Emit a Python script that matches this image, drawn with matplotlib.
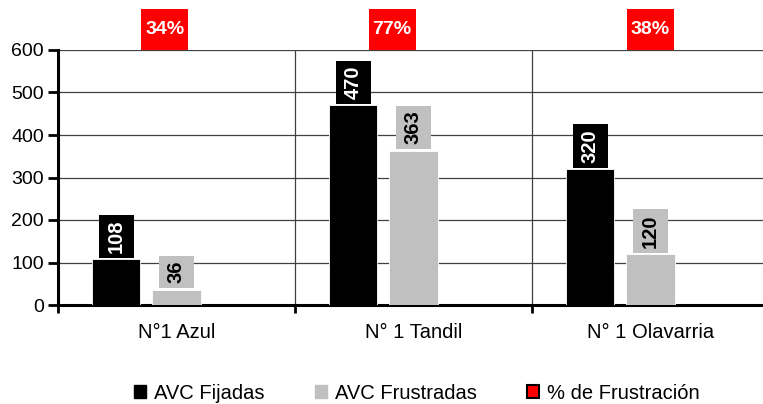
import numpy as np
import matplotlib
matplotlib.use("Agg")
import matplotlib.pyplot as plt
from matplotlib.patches import Patch, Rectangle
from matplotlib.path import Path
import matplotlib.transforms as mtransforms

plt.rcParams['font.family'] = ['Liberation Sans', 'DejaVu Sans']

# data
categories = ["N°1 Azul", "N° 1 Tandil", "N° 1 Olavarria"]
avc_fijadas = [108, 470, 320]
avc_frustradas = [36, 363, 120]
pct_frustracion = ["34%", "77%", "38%"]
series_names = ["AVC Fijadas", "AVC Frustradas", "% de Frustración"]

x = np.arange(len(categories))
w = 0.205
gray = "#c0c0c0"


def label_box(x0, y0, width, height, mutation_size):
    # box around rotated text: small pad along the text, wider across it
    pa = 0.24 * mutation_size
    pc = 0.40 * mutation_size
    x0, x1 = x0 - pa, x0 + width + pa
    y0, y1 = y0 - pc, y0 + height + pc
    return Path([(x0, y0), (x1, y0), (x1, y1), (x0, y1), (x0, y0)], closed=True)


fig = plt.figure(figsize=(7.63, 4.04), dpi=100)
ax = fig.add_axes([58 / 763, 1 - 305 / 404, 711 / 763, 255 / 404])

ax.bar(x - 0.255, avc_fijadas, w, color="black", edgecolor="white", linewidth=0.6, zorder=3)
ax.bar(x, avc_frustradas, w, color=gray, edgecolor="white", linewidth=0.6, zorder=3)

ax.set_ylim(0, 600)
ax.set_xlim(-0.5, 2.5)
ax.set_yticks(range(0, 601, 100))
ax.yaxis.grid(True, color="#404040", linewidth=0.9, zorder=0)
for xs in [0.5, 1.5]:
    ax.axvline(xs, color="#404040", linewidth=0.9, zorder=0)

ax.spines['top'].set_visible(False)
ax.spines['right'].set_visible(False)
ax.spines['left'].set_linewidth(2.2)
ax.spines['bottom'].set_linewidth(2.2)

ax.set_xticks([-0.5, 0.5, 1.5, 2.5])
ax.set_xticklabels([])
ax.set_xticks(x, minor=True)
ax.set_xticklabels(categories, minor=True, fontsize=14.5)
ax.tick_params(axis='x', which='major', direction='out', length=6, width=2)
ax.tick_params(axis='x', which='minor', length=0, pad=13)
ax.tick_params(axis='y', direction='out', length=7, width=2, labelsize=14, pad=3)

# value labels above bars
for xi, v in zip(x - 0.255, avc_fijadas):
    ax.annotate(str(v), (xi, v), xytext=(0, 4.5), textcoords="offset points",
                ha="center", va="bottom", rotation=90, color="white",
                fontsize=14.5, fontweight="bold", zorder=4,
                bbox=dict(boxstyle=label_box, fc="black", ec="none"))
for xi, v in zip(x, avc_frustradas):
    ax.annotate(str(v), (xi, v), xytext=(0, 4.5), textcoords="offset points",
                ha="center", va="bottom", rotation=90, color="black",
                fontsize=14.5, fontweight="bold", zorder=4,
                bbox=dict(boxstyle=label_box, fc=gray, ec="none"))

# red percentage boxes above the plot area
trans = mtransforms.blended_transform_factory(ax.transData, ax.transAxes)
red_offsets = [-0.05, -0.09, 0.0]
bw = 47 / 237
bh = 41 / 255
for xi, off, p in zip(x, red_offsets, pct_frustracion):
    cx = xi + off
    ax.add_patch(Rectangle((cx - bw / 2, 1.0), bw, bh, transform=trans,
                           facecolor="#ff0000", edgecolor="none", clip_on=False, zorder=5))
    ax.text(cx, 1.0 + bh / 2, p, transform=trans, ha="center", va="center",
            color="white", fontsize=14, fontweight="bold", zorder=6)

handles = [Patch(facecolor="black", edgecolor="black"),
           Patch(facecolor=gray, edgecolor=gray),
           Patch(facecolor="#ff0000", edgecolor="black", linewidth=1.5)]
fig.legend(handles, series_names, loc="center", bbox_to_anchor=(0.5465, 0.027),
           ncol=3, frameon=False, fontsize=14.5, handlelength=0.6, handleheight=0.6,
           handletextpad=0.4, columnspacing=2.5)

fig.savefig("out.png", dpi=100)
